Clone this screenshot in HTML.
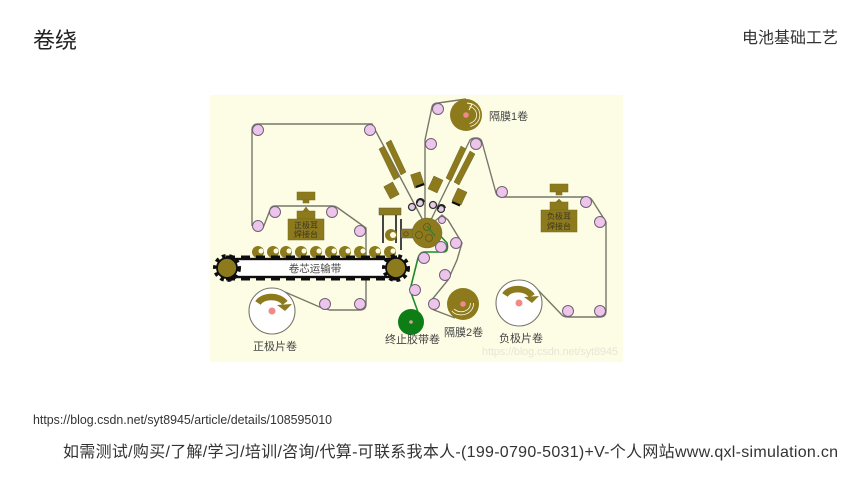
<!DOCTYPE html>
<html><head><meta charset="utf-8">
<style>
html,body{margin:0;padding:0;background:#fff;width:860px;height:484px;overflow:hidden}
svg{display:block}
text{font-family:"Liberation Sans","Noto Sans CJK SC",sans-serif}
</style></head>
<body>
<svg width="860" height="484" viewBox="0 0 860 484" xmlns="http://www.w3.org/2000/svg">
<defs><filter id="b" x="-5%" y="-5%" width="110%" height="110%"><feGaussianBlur stdDeviation="0.35"/></filter></defs>
<rect width="860" height="484" fill="#fff"/>
<text x="33" y="48" font-size="22" fill="#222">卷绕</text>
<text x="838" y="43" font-size="16" fill="#333" text-anchor="end">电池基础工艺</text>
<text x="33" y="424" font-size="12.5" fill="#333" textLength="299" lengthAdjust="spacingAndGlyphs">https://blog.csdn.net/syt8945/article/details/108595010</text>
<text x="63" y="457" font-size="16" fill="#333" textLength="775" lengthAdjust="spacing">如需测试/购买/了解/学习/培训/咨询/代算-可联系我本人-(199-0790-5031)+V-个人网站www.qxl-simulation.cn</text>

<g filter="url(#b)">
<rect x="210" y="95" width="413" height="267" fill="#fdfde6"/>

<!-- strips -->
<g fill="none" stroke="#77776a" stroke-width="1.4">
<path d="M427 228L372 124H258Q252 124 252 130V226"/>
<path d="M263 228L270 210Q271 206 275 206H332Q335 206 338 208L366 228V304Q366 310 360 310H330L322 308L285 292"/>
<path d="M427 228L425 220V140L432 107Q433 103 438 103L466 99"/>
<path d="M427 228L470 140Q472 138 476 138Q481 138 482 142L496 193Q497 197 502 197H586Q590 197 592 200L606 222V311Q606 317 600 317H568Q563 317 561 314L538 290"/>
<path d="M427 228L442 215L448 220L462 243L457 260L448 280L430 302Q430 308 434 310L455 318"/>
</g>
<path d="M433 228L447 243Q449 252 443 252H424Q420 252 418 258L410 290L418 312" fill="none" stroke="#1f8a2a" stroke-width="1.600"/>

<!-- plates -->
<g fill="#8c7a1c" stroke="#6f6a30" stroke-width=".5">
<path d="M379 149L384 146L399 177L394 180Z"/>
<path d="M386 143L391 140L406 172L401 175Z"/>
<path d="M461 146L466 149L451 181L446 178Z"/>
<path d="M470 151L475 154L459 185L454 182Z"/>
<rect x="386.500" y="183.500" width="10" height="14" transform="rotate(-28 391.500 190.500)"/>
<rect x="412.500" y="173" width="10" height="14" transform="rotate(-18 417.500 180)"/>
<rect x="430.500" y="177.500" width="10" height="14" transform="rotate(25 435.500 184.500)"/>
<rect x="454.500" y="189.500" width="10" height="14" transform="rotate(25 459.500 196.500)"/>
</g>
<path d="M416 187l8-3" stroke="#111" stroke-width="2.200"/>
<path d="M452 202l8 3.500" stroke="#111" stroke-width="2.200"/>

<!-- platforms -->
<g fill="#8c7a1c" stroke="#77691f" stroke-width=".5">
<rect x="297" y="192" width="18" height="8"/>
<rect x="303" y="200" width="6" height="3"/>
<path d="M303 211L306 207L309 211Z"/>
<rect x="297" y="211" width="18" height="8"/>
<rect x="288" y="219" width="36" height="21"/>
<rect x="550" y="184" width="18" height="8"/>
<rect x="556" y="192" width="6" height="3"/>
<path d="M556 202L559 199L562 202Z"/>
<rect x="550" y="202" width="18" height="8"/>
<rect x="541" y="210" width="36" height="22"/>
</g>
<g font-size="8" fill="#3d3620" text-anchor="middle">
<text x="306" y="228">正极耳</text><text x="306" y="237">焊接台</text>
<text x="559" y="219">负极耳</text><text x="559" y="229">焊接台</text>
</g>

<!-- left mechanism -->
<rect x="379" y="208" width="22" height="7" fill="#8c7a1c" stroke="#555" stroke-width=".5"/>
<g stroke="#444" stroke-width="2" fill="none">
<path d="M383 215V243M396 215V243M401 219V250"/>
</g>
<rect x="401" y="229" width="12" height="9" fill="#8c7a1c" stroke="#555" stroke-width=".5"/>
<circle cx="406" cy="234" r="2.200" fill="none" stroke="#4a4230" stroke-width=".7"/>
<circle cx="391" cy="235" r="6" fill="#8c7a1c"/>
<circle cx="393" cy="235" r="3" fill="#fdfde6"/>

<!-- core -->
<circle cx="427" cy="233" r="15" fill="#8c7a1c" stroke="#6f6a30" stroke-width=".5"/>
<g fill="none" stroke="#5e5420" stroke-width=".8">
<circle cx="427" cy="227" r="3.500"/><circle cx="419" cy="235" r="3.500"/><circle cx="429" cy="238" r="3.500"/>
</g>
<path d="M427 226L435 236" stroke="#1f8a2a" stroke-width="1.300"/>

<!-- conveyor -->
<g fill="#8c7a1c">
<circle cx="258" cy="252" r="6"/><circle cx="273" cy="252" r="6"/><circle cx="286" cy="252" r="6"/>
<circle cx="301" cy="252" r="6"/><circle cx="316" cy="252" r="6"/><circle cx="331" cy="252" r="6"/>
<circle cx="345" cy="252" r="6"/><circle cx="360" cy="252" r="6"/><circle cx="375" cy="252" r="6"/>
<circle cx="390" cy="252" r="6"/>
</g>
<g fill="#fdfde6">
<circle cx="261" cy="251" r="2.500"/><circle cx="276" cy="251" r="2.500"/><circle cx="289" cy="251" r="2.500"/>
<circle cx="304" cy="251" r="2.500"/><circle cx="319" cy="251" r="2.500"/><circle cx="334" cy="251" r="2.500"/>
<circle cx="348" cy="251" r="2.500"/><circle cx="363" cy="251" r="2.500"/><circle cx="378" cy="251" r="2.500"/>
<circle cx="393" cy="251" r="2.500"/>
</g>
<rect x="227" y="259" width="169" height="18" fill="#fff" stroke="#111" stroke-width="2.400"/>
<path d="M226 257H397M226 279H397" stroke="#111" stroke-width="3" stroke-dasharray="9 6" fill="none"/>
<circle cx="227" cy="268" r="11.500" fill="none" stroke="#111" stroke-width="5" stroke-dasharray="3.500 3.500"/>
<circle cx="396" cy="268" r="11.500" fill="none" stroke="#111" stroke-width="5" stroke-dasharray="3.500 3.500"/>
<circle cx="227" cy="268" r="10" fill="#8c7a1c" stroke="#111" stroke-width="1.800"/>
<circle cx="396" cy="268" r="10" fill="#8c7a1c" stroke="#111" stroke-width="1.800"/>
<text x="315" y="272" font-size="10.500" fill="#444" text-anchor="middle">卷芯运输带</text>

<!-- pink rollers -->
<g fill="#eec5ea" stroke="#6f6078" stroke-width="1">
<circle cx="258" cy="130" r="5.500"/><circle cx="370" cy="130" r="5.500"/>
<circle cx="258" cy="226" r="5.500"/><circle cx="275" cy="212" r="5.500"/>
<circle cx="332" cy="212" r="5.500"/><circle cx="360" cy="231" r="5.500"/>
<circle cx="325" cy="304" r="5.500"/><circle cx="360" cy="304" r="5.500"/>
<circle cx="438" cy="109" r="5.500"/><circle cx="431" cy="144" r="5.500"/>
<circle cx="476" cy="144" r="5.500"/><circle cx="502" cy="192" r="5.500"/>
<circle cx="586" cy="202" r="5.500"/><circle cx="600" cy="222" r="5.500"/>
<circle cx="568" cy="311" r="5.500"/><circle cx="600" cy="311" r="5.500"/>
<circle cx="456" cy="243" r="5.500"/><circle cx="441" cy="247" r="5.500"/>
<circle cx="424" cy="258" r="5.500"/><circle cx="445" cy="275" r="5.500"/>
<circle cx="415" cy="290" r="5.500"/><circle cx="434" cy="304" r="5.500"/>
<circle cx="442" cy="220" r="3.500"/>
</g>
<g fill="#e4cce4" stroke="#333" stroke-width="1.300">
<circle cx="412" cy="207" r="3.500"/><circle cx="420" cy="203" r="3.500"/>
<circle cx="433" cy="205" r="3.500"/><circle cx="441" cy="209" r="3.500"/>
</g>
<path d="M417 203a3.500 3.500 0 0 1 7-1M438 209a3.500 3.500 0 0 1 7-1" fill="none" stroke="#222" stroke-width="2"/>

<!-- separator rolls -->
<circle cx="466" cy="115" r="16" fill="#8c7a1c"/>
<circle cx="466" cy="115" r="2.800" fill="#f08a88"/>
<path d="M470 105C481 108 481 122 470 125" fill="none" stroke="#fdfde6" stroke-width="4"/>
<path d="M470 105C481 108 481 122 470 125" fill="none" stroke="#8c7a1c" stroke-width="2.400"/>
<path d="M467 103l5 1-3 6" fill="none" stroke="#fdfde6" stroke-width="1"/>
<circle cx="463" cy="304" r="16" fill="#8c7a1c"/>
<circle cx="463" cy="304" r="2.800" fill="#f08a88"/>
<path d="M472 303C472 314 458 316 453 310" fill="none" stroke="#fdfde6" stroke-width="4"/>
<path d="M472 303C472 314 458 316 453 310" fill="none" stroke="#8c7a1c" stroke-width="2.400"/>

<!-- electrode rolls -->
<circle cx="272" cy="311" r="23" fill="#fff" stroke="#77776a" stroke-width="1.100"/>
<circle cx="272" cy="311" r="3.500" fill="#f08a88"/>
<path d="M258 303C263 295 279 295 285 303" fill="none" stroke="#8c7a1c" stroke-width="6.500"/>
<path d="M277 305L292 304L285 311Z" fill="#8c7a1c"/>
<circle cx="519" cy="303" r="23" fill="#fff" stroke="#77776a" stroke-width="1.100"/>
<circle cx="519" cy="303" r="3.500" fill="#f08a88"/>
<path d="M505 295C510 287 526 287 532 296" fill="none" stroke="#8c7a1c" stroke-width="6.500"/>
<path d="M524 297L539 296L532 303Z" fill="#8c7a1c"/>

<!-- green roll -->
<circle cx="411" cy="322" r="13" fill="#0a7d14"/>
<circle cx="411" cy="322" r="1.800" fill="#e0a090"/>

<!-- labels -->
<g font-size="11" fill="#444">
<text x="489" y="120">隔膜1卷</text>
<text x="253" y="350">正极片卷</text>
<text x="385" y="343">终止胶带卷</text>
<text x="444" y="336">隔膜2卷</text>
<text x="499" y="342">负极片卷</text>
</g>
<text x="482" y="355" font-size="11" fill="#e6e6d8" textLength="136">https://blog.csdn.net/syt8945</text>
</g>
</svg>
</body></html>
